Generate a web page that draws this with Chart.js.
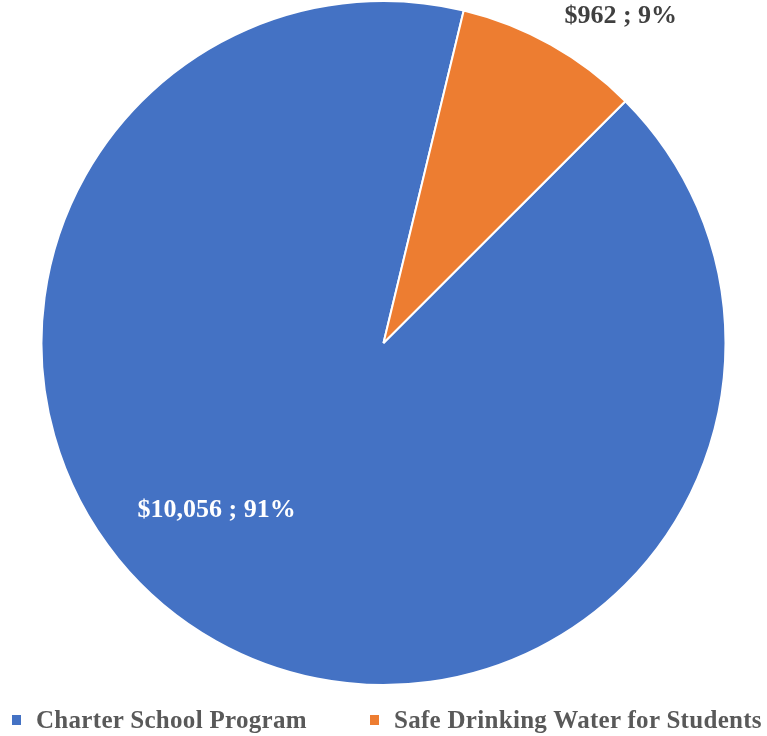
<!DOCTYPE html>
<html>
<head>
<meta charset="utf-8">
<script src="https://cdn.jsdelivr.net/npm/chart.js@4/dist/chart.umd.min.js"></script>
<style>
  html, body { margin: 0; padding: 0; background: #fff; }
  #wrap { width: 767px; height: 736px; position: relative; }
  #legend {
    position: absolute; left: 12px; top: 706px;
    display: flex; align-items: center;
    font: bold 25px "Liberation Serif", "Times New Roman", serif;
    letter-spacing: 0.3px; color: #595959; white-space: nowrap;
  }
  .item { display: flex; align-items: center; margin-right: 63px; }
  .box { width: 9px; height: 10px; margin-right: 15px; }
</style>
</head>
<body>
<div id="wrap"><canvas id="pie"></canvas><div id="legend"></div></div>
<script>
var categories = ['Charter School Program', 'Safe Drinking Water for Students'];
var amounts = [10056, 962];
var colors = ['#4472C4', '#ED7D31'];
// where each data label sits: angle from top (deg, clockwise) and distance as share of radius
var labelSpots = [
  { angle: 225, dist: 0.69, color: '#ffffff' },
  { angle: 36, dist: 1.18, color: '#404040' }
];

var fmtMoney = v => '$' + v.toLocaleString('en-US');

var dataLabels = {
  id: 'dataLabels',
  afterDatasetsDraw(chart) {
    var ctx = chart.ctx;
    var meta = chart.getDatasetMeta(0);
    var total = amounts.reduce((a, b) => a + b, 0);
    ctx.save();
    ctx.font = 'bold 26px "Liberation Serif", "Times New Roman", serif';
    ctx.textAlign = 'center';
    ctx.textBaseline = 'middle';
    meta.data.forEach((arc, i) => {
      var spot = labelSpots[i];
      var a = spot.angle * Math.PI / 180;
      var r = arc.outerRadius * spot.dist;
      var x = arc.x + Math.sin(a) * r;
      var y = arc.y - Math.cos(a) * r;
      var pct = Math.round(amounts[i] / total * 100);
      ctx.fillStyle = spot.color;
      ctx.fillText(fmtMoney(amounts[i]) + ' ; ' + pct + '%', x, y);
    });
    ctx.restore();
  }
};

// legend built in html, under the pie
var legend = document.getElementById('legend');
categories.forEach((name, i) => {
  legend.insertAdjacentHTML('beforeend',
    `<div class='item'><span class='box' style='background:${colors[i]}'></span>${name}</div>`);
});

new Chart(document.getElementById('pie'), {
  type: 'pie',
  data: {
    labels: categories,
    datasets: [{
      data: amounts,
      backgroundColor: colors,
      borderColor: '#ffffff',
      borderWidth: 2
    }]
  },
  options: {
    responsive: true,
    maintainAspectRatio: false,
    animation: false,
    rotation: 45,
    layout: { padding: { top: 0, bottom: 50 } },
    plugins: {
      tooltip: { enabled: false },
      legend: { display: false }
    }
  },
  plugins: [dataLabels]
});
</script>
</body>
</html>
